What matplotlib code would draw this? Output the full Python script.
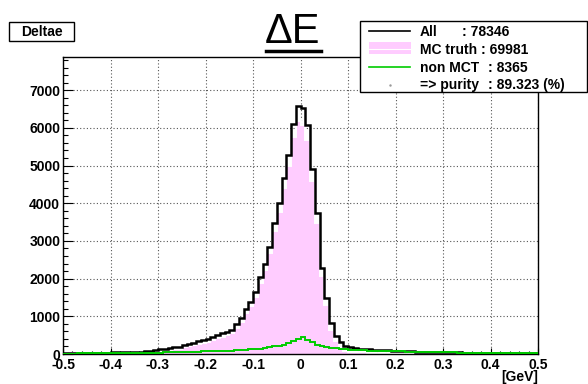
import numpy as np
import matplotlib
matplotlib.use('Agg')
import matplotlib.pyplot as plt
from matplotlib.patches import Rectangle
from matplotlib.lines import Line2D
from matplotlib.ticker import MultipleLocator

plt.rcParams['font.family'] = ['Liberation Sans', 'DejaVu Sans']
plt.rcParams['axes.unicode_minus'] = False

# 100 bins of 0.01 GeV between -0.5 and 0.5
x_lo, x_hi, n_bins = -0.5, 0.5, 100

# counts per bin
all_counts = [
    25, 25, 27, 28, 30, 30, 32, 33, 35, 37,
    40, 42, 45, 48, 52, 56, 62, 70, 85, 100,
    120, 140, 160, 175, 195, 240, 275, 300, 335, 365,
    400, 455, 500, 545, 595, 650, 800, 950, 1200, 1390,
    1650, 2030, 2400, 2850, 3470, 4000, 4660, 5270, 6100, 6570,
    6520, 6070, 4910, 3730, 2280, 1480, 820, 490, 330, 210,
    180, 160, 145, 135, 125, 118, 110, 98, 93, 88,
    84, 79, 74, 70, 66, 62, 58, 55, 52, 49,
    47, 44, 42, 40, 38, 36, 34, 32, 31, 30,
    29, 28, 27, 26, 25, 24, 23, 22, 21, 20,
]
mc_truth_counts = [
    13, 12, 14, 14, 16, 15, 17, 17, 19, 20,
    22, 23, 25, 26, 29, 31, 35, 41, 53, 65,
    82, 99, 116, 128, 145, 187, 219, 240, 271, 297,
    328, 379, 420, 461, 507, 558, 702, 845, 1088, 1270,
    1520, 1890, 2240, 2670, 3270, 3780, 4410, 4980, 5760, 6170,
    6070, 5690, 4600, 3480, 2065, 1290, 650, 340, 195, 85,
    65, 55, 45, 40, 35, 33, 30, 20, 18, 16,
    14, 12, 10, 9, 8, 7, 6, 5, 4, 3,
    3, 2, 2, 2, 2, 2, 2, 2, 2, 2,
    2, 2, 2, 2, 2, 2, 2, 2, 2, 2,
]
non_mct_counts = [
    12, 13, 13, 14, 14, 15, 15, 16, 16, 17,
    18, 19, 20, 22, 23, 25, 27, 29, 32, 35,
    38, 41, 44, 47, 50, 53, 56, 60, 64, 68,
    72, 76, 80, 84, 88, 92, 98, 105, 112, 120,
    130, 140, 160, 180, 200, 220, 250, 290, 340, 400,
    450, 380, 310, 250, 215, 190, 170, 150, 135, 125,
    115, 105, 100, 95, 90, 85, 80, 78, 75, 72,
    70, 67, 64, 61, 58, 55, 52, 50, 48, 46,
    44, 42, 40, 38, 36, 34, 32, 30, 29, 28,
    27, 26, 25, 24, 23, 22, 21, 20, 19, 18,
]

x_ticks = [-0.5, -0.4, -0.3, -0.2, -0.1, 0.0, 0.1, 0.2, 0.3, 0.4, 0.5]
x_tick_labels = ['-0.5', '-0.4', '-0.3', '-0.2', '-0.1', '0', '0.1', '0.2', '0.3', '0.4', '0.5']
y_ticks = [0, 1000, 2000, 3000, 4000, 5000, 6000, 7000]
y_tick_labels = ['0', '1000', '2000', '3000', '4000', '5000', '6000', '7000']
y_max = 7880

title = '\u0394E'
hist_name = 'Deltae'
x_unit = '[GeV]'
legend_labels = ['All', 'MC truth : 69981', 'non MCT', '=> purity']
legend_values = [': 78346', '', ': 8365', ': 89.323 (%)']

pink = '#ffccff'
green = '#00cc00'

W, H = 588, 384


def px(x, y):
    # pixel position (from top-left) -> figure fraction
    return x / W, 1 - y / H


fig = plt.figure(figsize=(W / 100, H / 100), dpi=100)
ax = fig.add_axes([63 / W, 1 - 354 / H, 475 / W, 297 / H])

edges = np.linspace(x_lo, x_hi, n_bins + 1)
ax.stairs(mc_truth_counts, edges, fill=True, color=pink, baseline=0, zorder=2)
ax.stairs(mc_truth_counts, edges, color='white', lw=1.4, baseline=None, zorder=2.5)
ax.stairs(all_counts, edges, color='black', lw=1.8, baseline=None, zorder=3)
ax.stairs(non_mct_counts, edges, color=green, lw=1.4, baseline=None, zorder=4)

ax.set_xlim(x_lo, x_hi)
ax.set_ylim(0, y_max)
ax.set_xticks(x_ticks)
ax.set_xticklabels(x_tick_labels)
ax.set_yticks(y_ticks)
ax.set_yticklabels(y_tick_labels)
ax.xaxis.set_minor_locator(MultipleLocator(0.02))
ax.yaxis.set_minor_locator(MultipleLocator(200))

ax.tick_params(axis='x', which='major', direction='in', length=4.5, width=0.8,
               pad=3, labelsize=10)
ax.tick_params(axis='x', which='minor', direction='in', length=2.3, width=0.8)
ax.tick_params(axis='y', which='major', direction='in', length=7, width=0.8,
               pad=2, labelsize=10)
ax.tick_params(axis='y', which='minor', direction='in', length=3.6, width=0.8)
for lab in ax.get_xticklabels() + ax.get_yticklabels():
    lab.set_fontweight('bold')

ax.set_axisbelow(True)
ax.grid(True, which='major', color='#555555', lw=0.8, linestyle=(0, (1, 2)))
for sp in ax.spines.values():
    sp.set_linewidth(1)

# unit label under the right end of the x axis
fig.text(*px(538, 381), x_unit, ha='right', va='baseline',
         fontsize=10, fontweight='bold')

# title with its underline
fig.text(*px(293, 43), title, ha='center', va='baseline', fontsize=30)
fig.add_artist(Line2D([266 / W, 321 / W], [1 - 51 / H] * 2, color='black', lw=2.5))

# histogram name box, top-left
fig.add_artist(Rectangle(px(9, 41), 65 / W, 19 / H, facecolor='white',
                         edgecolor='black', lw=1))
fig.text(*px(41.5, 36.5), hist_name, ha='center', va='baseline',
         fontsize=10, fontweight='bold')

# legend box
fig.add_artist(Rectangle(px(360, 92), 227 / W, 71 / H, facecolor='white',
                         edgecolor='black', lw=1, zorder=5))
rows_y = [31, 49, 67, 84.5]
fig.add_artist(Line2D([369 / W, 410 / W], [1 - rows_y[0] / H] * 2,
                      color='black', lw=1.2, zorder=6))
fig.add_artist(Rectangle(px(369, 54), 42 / W, 12 / H, facecolor=pink,
                         edgecolor='none', zorder=6))
fig.add_artist(Line2D([369 / W, 411 / W], [1 - rows_y[1] / H] * 2,
                      color='white', lw=0.8, zorder=7))
fig.add_artist(Line2D([369 / W, 410 / W], [1 - rows_y[2] / H] * 2,
                      color=green, lw=1.2, zorder=6))
fig.add_artist(Line2D([390 / W], [1 - rows_y[3] / H], marker='.', ms=1.5,
                      color='#999999', lw=0, zorder=6))

value_x = [462, 0, 488, 488]
for i, (name, val) in enumerate(zip(legend_labels, legend_values)):
    fig.text(*px(420, rows_y[i] + 5), name, ha='left', va='baseline',
             fontsize=10, fontweight='bold', zorder=7)
    if val:
        fig.text(*px(value_x[i], rows_y[i] + 5), val, ha='left', va='baseline',
                 fontsize=10, fontweight='bold', zorder=7)

fig.savefig('out.png', dpi=100)
